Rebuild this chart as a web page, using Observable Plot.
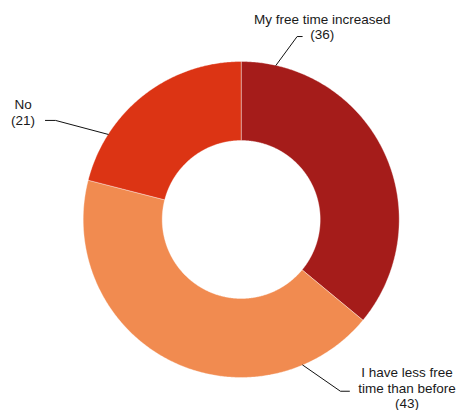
<!DOCTYPE html>
<html>
<head>
<meta charset="utf-8">
<script src="https://cdn.jsdelivr.net/npm/d3@7"></script>
<script src="https://cdn.jsdelivr.net/npm/@observablehq/plot@0.6"></script>
<style>
  html, body { margin: 0; padding: 0; background: #fff; }
  #chart { width: 457px; height: 410px; }
</style>
</head>
<body>
<div id="chart"></div>
<script>
// ---- data ----
const categories = ["My free time increased", "I have less free time than before", "No"];
const values = [36, 43, 21];
const colors = ["#a51c1a", "#f18b50", "#dc3414"];
const labelTexts = ["My free time increased\n(36)", "I have less free\ntime than before\n(43)", "No\n(21)"];

// annotation layout (in chart units, 1 = outer radius; angles in degrees clockwise from top)
const leaderAngles = [12.7, 157.1, 302.6];
const leaderElbowX = [0.354, 0.628, -1.175];
const leaderElbowY = [1.158, -1.087, 0.627];
const leaderEndX = [0.386, 0.685, -1.239];
const leaderEndY = [1.158, -1.087, 0.627];
const labelX = [0.513, 1.049, -1.381];
const labelY = [1.305, -0.93, 0.766];

const innerRatio = 0.5;

// ---- build slice polygons ----
const total = d3.sum(values);
const slicePts = [];
let acc = 0;
categories.forEach((c, i) => {
  const a0 = acc / total * 2 * Math.PI;
  acc += values[i];
  const a1 = acc / total * 2 * Math.PI;
  const n = Math.max(2, Math.ceil((a1 - a0) / (Math.PI / 360)));
  for (let k = 0; k <= n; k++) {
    const a = a0 + (a1 - a0) * k / n;
    slicePts.push({cat: c, x: Math.sin(a), y: Math.cos(a)});
  }
  for (let k = n; k >= 0; k--) {
    const a = a0 + (a1 - a0) * k / n;
    slicePts.push({cat: c, x: innerRatio * Math.sin(a), y: innerRatio * Math.cos(a)});
  }
  slicePts.push({cat: c, x: Math.sin(a0), y: Math.cos(a0)});
});

const leaderPts = [];
categories.forEach((c, i) => {
  const a = leaderAngles[i] * Math.PI / 180;
  leaderPts.push({cat: c, x: Math.sin(a), y: Math.cos(a)});
  leaderPts.push({cat: c, x: leaderElbowX[i], y: leaderElbowY[i]});
  leaderPts.push({cat: c, x: leaderEndX[i], y: leaderEndY[i]});
});

const labels = categories.map((c, i) => ({cat: c, text: labelTexts[i], x: labelX[i], y: labelY[i]}));

// scales: center at (240.7, 219), radius 158 px
const W = 457, H = 410, cx = 240.7, cy = 219, R = 158;

const chart = Plot.plot({
  width: W,
  height: H,
  margin: 0,
  style: {fontFamily: "'Liberation Sans', Arial, Helvetica, sans-serif", fontSize: "13.5px", background: "#fff", overflow: "visible"},
  x: {domain: [-cx / R, (W - cx) / R], axis: null},
  y: {domain: [-(H - cy) / R, cy / R], axis: null},
  color: {domain: categories, range: colors},
  marks: [
    Plot.line(slicePts, {x: "x", y: "y", z: "cat", fill: "cat", stroke: "#ffffff", strokeWidth: 0.6, strokeOpacity: 0.6, curve: "linear"}),
    Plot.line(leaderPts, {x: "x", y: "y", z: "cat", stroke: "#111", strokeWidth: 1}),
    Plot.text(labels, {x: "x", y: "y", text: "text", lineAnchor: "top", textAnchor: "middle", lineHeight: 1.13, fill: "#1a1a1a", fontSize: 13.5})
  ]
});
document.getElementById("chart").appendChild(chart);
</script>
</body>
</html>
